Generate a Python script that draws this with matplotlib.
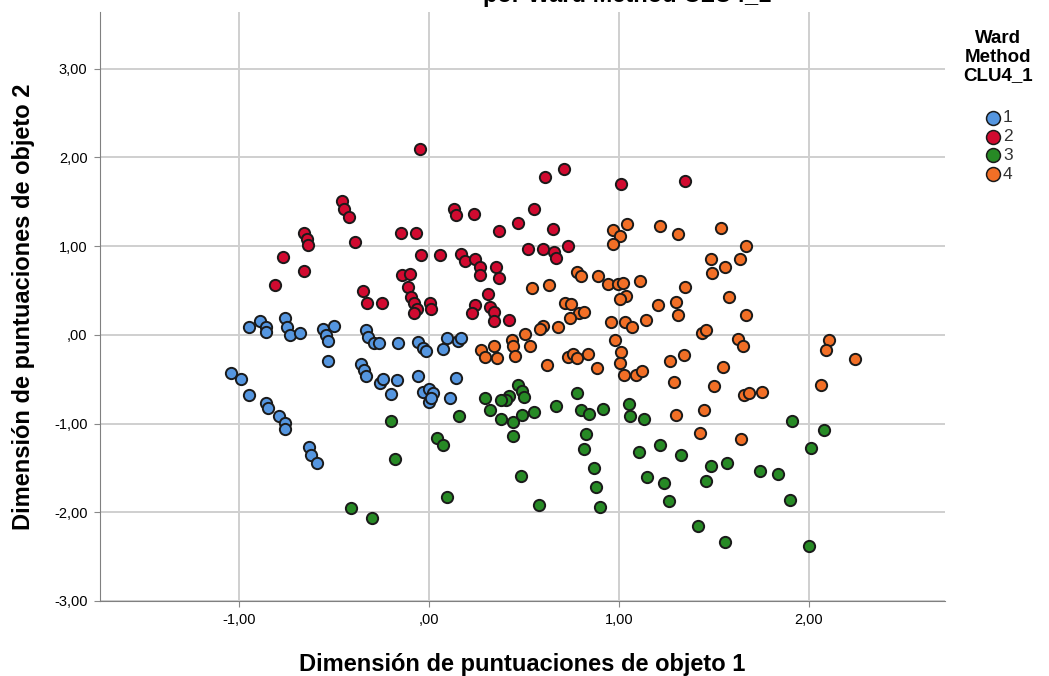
import matplotlib.pyplot as plt
from matplotlib.lines import Line2D

# Object scores per Ward cluster
c1_x = [-0.95, -0.89, -0.86, -0.86, -0.76, -0.75, -0.73, -0.68, -0.56, -0.50, -0.54, -0.53, -0.53,
        -0.33, -0.32, -0.29, -0.265, -0.165, -0.056, -0.033, -0.016, 0.075, 0.096, 0.15, 0.17,
        -1.04, -0.99, -0.95, -0.86, -0.85, -0.79, -0.76, -0.76, -0.63, -0.62, -0.59,
        -0.36, -0.34, -0.33, -0.26, -0.24, -0.17, -0.20, -0.06, -0.03, 0.00, 0.02, 0.00, 0.01, 0.11, 0.14]
c1_y = [0.09, 0.16, 0.09, 0.03, 0.19, 0.09, 0.00, 0.02, 0.07, 0.10, 0.00, -0.07, -0.30,
        0.06, -0.02, -0.09, -0.09, -0.09, -0.08, -0.15, -0.18, -0.16, -0.03, -0.07, -0.03,
        -0.43, -0.50, -0.68, -0.77, -0.82, -0.92, -0.99, -1.06, -1.26, -1.35, -1.44,
        -0.33, -0.40, -0.46, -0.54, -0.50, -0.51, -0.67, -0.46, -0.64, -0.61, -0.66, -0.76, -0.71, -0.71, -0.49]

c2_x = [-0.05, -0.46, -0.45, -0.42, -0.66, -0.64, -0.635, -0.39, -0.15, -0.07, 0.13, 0.14, 0.235, 0.37,
        -0.77, -0.66, -0.81, -0.04, 0.06, 0.17, 0.19, 0.24, 0.27, 0.27, 0.35, 0.37,
        -0.14, -0.10, -0.11, -0.095, -0.08, -0.065, -0.08, 0.005, 0.01, -0.35, -0.325, -0.25,
        0.31, 0.24, 0.225, 0.32, 0.34, 0.34, 0.42,
        0.61, 0.71, 1.01, 1.35, 0.55, 0.47, 0.65, 0.52, 0.60, 0.66, 0.67, 0.73]
c2_y = [2.09, 1.51, 1.42, 1.33, 1.15, 1.08, 1.01, 1.05, 1.15, 1.15, 1.42, 1.35, 1.36, 1.17,
        0.88, 0.72, 0.56, 0.90, 0.90, 0.91, 0.83, 0.86, 0.77, 0.68, 0.77, 0.64,
        0.67, 0.69, 0.545, 0.43, 0.36, 0.29, 0.25, 0.36, 0.29, 0.50, 0.36, 0.36,
        0.46, 0.34, 0.25, 0.31, 0.26, 0.16, 0.17,
        1.78, 1.87, 1.70, 1.73, 1.42, 1.26, 1.19, 0.97, 0.97, 0.94, 0.87, 1.00]

c3_x = [-0.20, -0.18, -0.41, -0.30, 0.044, 0.072, 0.096, 0.158, 0.295, 0.32, 0.38,
        0.47, 0.49, 0.50, 0.42, 0.405, 0.38, 0.444, 0.44, 0.488, 0.55, 0.668, 0.777, 0.798,
        0.844, 0.917, 0.825, 0.816, 0.87, 0.877, 0.90, 0.484, 0.58,
        1.05, 1.06, 1.13, 1.107, 1.216, 1.326, 1.146, 1.237, 1.263, 1.484, 1.57, 1.456,
        1.74, 1.835, 1.414, 1.56, 1.91, 2.08, 2.01, 1.90, 2.00]
c3_y = [-0.97, -1.40, -1.95, -2.06, -1.165, -1.24, -1.83, -0.92, -0.71, -0.845, -0.95,
        -0.56, -0.63, -0.695, -0.69, -0.73, -0.73, -0.985, -1.135, -0.90, -0.865, -0.80, -0.66, -0.85,
        -0.89, -0.83, -1.12, -1.29, -1.50, -1.71, -1.94, -1.59, -1.92,
        -0.78, -0.92, -0.95, -1.32, -1.24, -1.35, -1.60, -1.67, -1.87, -1.48, -1.44, -1.65,
        -1.54, -1.57, -2.16, -2.34, -0.97, -1.07, -1.27, -1.86, -2.38]

c4_x = [0.274, 0.34, 0.295, 0.356, 0.967, 1.04, 1.005, 0.97, 1.217, 1.31, 1.535, 1.667, 1.637,
        1.484, 1.56, 1.49, 0.78, 0.80, 0.89, 0.94, 0.996, 1.02, 1.11, 1.035, 1.005, 0.54, 0.63,
        0.716, 0.746, 0.79, 0.817, 0.742, 1.207, 1.30, 1.347, 1.58, 1.67, 1.31, 1.14, 0.96, 1.03,
        1.07, 0.677, 0.60, 0.584, 0.505, 0.437, 0.44, 0.45, 0.53, 0.62, 0.73, 0.76, 0.78, 0.835,
        0.886, 0.98, 1.01, 1.005, 1.026, 1.09, 1.12, 1.27, 1.34, 1.435, 1.456, 1.625, 1.655, 1.55,
        2.105, 2.09, 2.24, 1.29, 1.50, 1.66, 1.686, 1.755, 1.30, 1.447, 1.426, 1.64, 2.063]
c4_y = [-0.17, -0.13, -0.245, -0.26, 1.18, 1.25, 1.11, 1.03, 1.23, 1.135, 1.21, 1.00, 0.85,
        0.857, 0.77, 0.695, 0.71, 0.66, 0.665, 0.575, 0.575, 0.58, 0.61, 0.44, 0.405, 0.53, 0.56,
        0.36, 0.35, 0.245, 0.26, 0.19, 0.34, 0.37, 0.545, 0.425, 0.22, 0.22, 0.17, 0.14, 0.14,
        0.09, 0.094, 0.10, 0.064, 0.01, -0.06, -0.12, -0.24, -0.12, -0.34, -0.245, -0.21, -0.26, -0.22,
        -0.375, -0.06, -0.19, -0.32, -0.45, -0.45, -0.41, -0.29, -0.23, 0.02, 0.05, -0.045, -0.12, -0.36,
        -0.056, -0.17, -0.27, -0.53, -0.575, -0.68, -0.65, -0.646, -0.90, -0.845, -1.11, -1.17, -0.56]

clusters = ['1', '2', '3', '4']
colors = ['#5596e0', '#d10a30', '#278a25', '#f26f26']

x_ticks = [-1, 0, 1, 2]
x_tick_labels = ['-1,00', ',00', '1,00', '2,00']
y_ticks = [-3, -2, -1, 0, 1, 2, 3]
y_tick_labels = ['-3,00', '-2,00', '-1,00', ',00', '1,00', '2,00', '3,00']

plt.rcParams['font.family'] = ['Liberation Sans', 'DejaVu Sans']

fig = plt.figure(figsize=(10.49, 6.76), dpi=100)
ax = fig.add_axes([100 / 1049, 75 / 676, 845 / 1049, 589 / 676])

series = [(c1_x, c1_y), (c2_x, c2_y), (c3_x, c3_y), (c4_x, c4_y)]
for (xs, ys), col in zip(series, colors):
    ax.scatter(xs, ys, s=66, c=col, edgecolors='#1a1a1a', linewidths=1.4, zorder=3)

ax.set_xlim(-1.732, 2.716)
ax.set_ylim(-3.0, 3.64)
ax.set_xticks(x_ticks)
ax.set_xticklabels(x_tick_labels)
ax.set_yticks(y_ticks)
ax.set_yticklabels(y_tick_labels)
ax.tick_params(labelsize=10.5, length=4, color='#888888', pad=5)
ax.grid(True, color='#cfcfcf', linewidth=1.4, zorder=0)
ax.set_axisbelow(True)
for side in ['top', 'right']:
    ax.spines[side].set_visible(False)
for side in ['left', 'bottom']:
    ax.spines[side].set_color('#808080')

ax.set_xlabel('Dimensión de puntuaciones de objeto 1', fontsize=17, fontweight='bold', labelpad=18)
ax.set_ylabel('Dimensión de puntuaciones de objeto 2', fontsize=17, fontweight='bold', labelpad=14)

# title cut off at the top of the image, as in the source chart
fig.text(627 / 1049, 1 - 2 / 676, 'por Ward Method CLU4_1', fontsize=17, fontweight='bold',
         ha='center', va='baseline')

# legend
fig.text(998 / 1049, 1 - 57 / 676, 'Ward\nMethod\nCLU4_1', fontsize=13.5, fontweight='bold',
         ha='center', va='center', linespacing=1.15)
for i, (lab, col) in enumerate(zip(clusters, colors)):
    yy = 1 - (118 + i * 18.7) / 676
    fig.add_artist(Line2D([993 / 1049], [yy], marker='o', markersize=10, color=col,
                          markeredgecolor='#1a1a1a', markeredgewidth=1.1, linestyle='none'))
    fig.text(1003 / 1049, yy, lab, fontsize=12.5, ha='left', va='center', color='#333333')

fig.savefig('out.png', dpi=100)
